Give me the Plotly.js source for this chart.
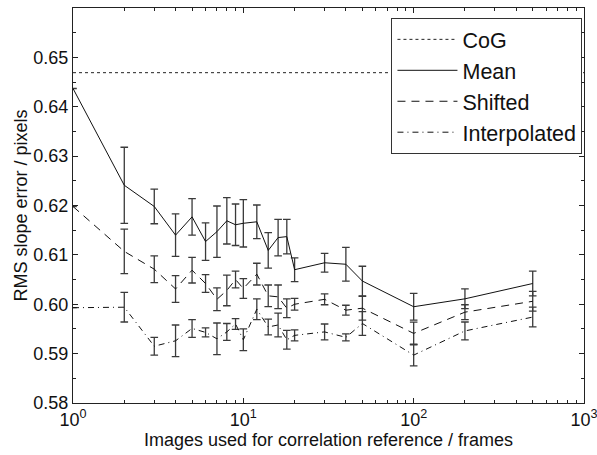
<!DOCTYPE html>
<html>
<head>
<meta charset="utf-8">
<script src="https://cdn.plot.ly/plotly-3.0.1.min.js"></script>
<style>html,body{margin:0;padding:0;background:#fff;}#chart{width:597px;height:455px;}</style>
</head>
<body>
<div id="chart"></div>
<script>
// Frames used for correlation reference
var frames = [1, 2, 3, 4, 5, 6, 7, 8, 9, 10, 12, 14, 16, 18, 20, 30, 40, 50, 100, 200, 500];

// CoG reference level
var cogX = [1, 1000];
var cogY = [0.6469, 0.6469];

// Mean
var meanY =   [0.6437, 0.6241, 0.6198, 0.6140, 0.6177, 0.6127, 0.6147, 0.6169, 0.6161, 0.6164, 0.6167, 0.6109, 0.6135, 0.6137, 0.6070, 0.6084, 0.6081, 0.6047, 0.5995, 0.6011, 0.6042];
var meanErr = [null,   0.0077, 0.0035, 0.0043, 0.0037, 0.0038, 0.0052, 0.0047, 0.0042, 0.0048, 0.0034, 0.0036, 0.0037, 0.0035, 0.0024, 0.0019, 0.0034, 0.0030, 0.0027, 0.0020, 0.0025];

// Shifted
var shiftY =   [0.6198, 0.6107, 0.6071, 0.6031, 0.6069, 0.6042, 0.6010, 0.6028, 0.6050, 0.6032, 0.6061, 0.6017, 0.6015, 0.5992, 0.6000, 0.6010, 0.5988, 0.5992, 0.5941, 0.5984, 0.6006];
var shiftErr = [null,   0.0045, 0.0027, 0.0027, 0.0026, 0.0018, 0.0023, 0.0031, 0.0017, 0.0020, 0.0022, 0.0022, 0.0024, 0.0019, 0.0012, 0.0011, 0.0010, 0.0024, 0.0023, 0.0015, 0.0020];

// Interpolated
var interpY =   [0.5993, 0.5994, 0.5915, 0.5926, 0.5951, 0.5943, 0.5930, 0.5944, 0.5960, 0.5928, 0.5990, 0.5954, 0.5958, 0.5928, 0.5937, 0.5944, 0.5933, 0.5961, 0.5897, 0.5946, 0.5974];
var interpErr = [null,   0.0030, 0.0018, 0.0032, 0.0018, 0.0009, 0.0032, 0.0017, 0.0011, 0.0022, 0.0021, 0.0016, 0.0024, 0.0019, 0.0011, 0.0016, 0.0007, 0.0024, 0.0022, 0.0018, 0.0020];

// Axis ticks
var xTickVals = [1, 10, 100, 1000];
var xTickText = ['10<sup>0</sup>', '10<sup>1</sup>', '10<sup>2</sup>', '10<sup>3</sup>'];
var xMinorVals = [2,3,4,5,6,7,8,9,20,30,40,50,60,70,80,90,200,300,400,500,600,700,800,900];
var yTickVals = [0.58, 0.59, 0.60, 0.61, 0.62, 0.63, 0.64, 0.65];
var yTickText = ['0.58', '0.59', '0.60', '0.61', '0.62', '0.63', '0.64', '0.65'];

var FONT = 'Liberation Sans, Arial, Helvetica, sans-serif';
var errStyle = {color: '#3a3a3a', thickness: 1.3, width: 3.8};

function errBar(arr) {
  return {type: 'data', array: arr, visible: true, color: errStyle.color, thickness: errStyle.thickness, width: errStyle.width};
}

var traces = [
  {x: cogX, y: cogY, name: 'CoG', mode: 'lines', line: {color: '#222', width: 1, dash: 'dot'}},
  {x: frames, y: meanY, name: 'Mean', mode: 'lines', line: {color: '#111', width: 1}, error_y: errBar(meanErr)},
  {x: frames, y: shiftY, name: 'Shifted', mode: 'lines', line: {color: '#111', width: 1, dash: '8px,6px'}, error_y: errBar(shiftErr)},
  {x: frames, y: interpY, name: 'Interpolated', mode: 'lines', line: {color: '#111', width: 1, dash: '6px,4px,1px,4px'}, error_y: errBar(interpErr)}
];

var layout = {
  width: 597, height: 455,
  margin: {l: 73, r: 13, t: 8, b: 52},
  paper_bgcolor: '#fff', plot_bgcolor: '#fff',
  font: {family: FONT, size: 18, color: '#000'},
  showlegend: true,
  legend: {
    x: 0.997, xanchor: 'right', y: 0.975, yanchor: 'top',
    bgcolor: '#fff', bordercolor: '#333', borderwidth: 1,
    font: {family: FONT, size: 21.5, color: '#111'},
    itemwidth: 60, tracegroupgap: 0
  },
  xaxis: {
    type: 'log', range: [0, 3],
    tickmode: 'array', tickvals: xTickVals, ticktext: xTickText,
    ticklabeloverflow: 'allow',
    ticks: 'inside', ticklen: 5, tickcolor: '#222',
    minor: {tickmode: 'array', tickvals: xMinorVals, ticks: 'inside', ticklen: 3, tickcolor: '#222'},
    showgrid: false, zeroline: false,
    showline: true, linecolor: '#222', linewidth: 1, mirror: 'ticks',
    tickfont: {family: FONT, size: 18, color: '#111'},
    title: {text: 'Images used for correlation reference / frames', font: {family: FONT, size: 18, color: '#111'}, standoff: 4},
    automargin: false
  },
  yaxis: {
    range: [0.58, 0.66],
    tickmode: 'array', tickvals: yTickVals, ticktext: yTickText,
    ticks: 'inside', ticklen: 5, tickcolor: '#222',
    minor: {dtick: 0.005, ticks: 'inside', ticklen: 3, tickcolor: '#222'},
    showgrid: false, zeroline: false,
    showline: true, linecolor: '#222', linewidth: 1, mirror: 'ticks',
    tickfont: {family: FONT, size: 18, color: '#111'},
    title: {text: 'RMS slope error / pixels', font: {family: FONT, size: 18, color: '#111'}},
    automargin: false
  }
};

Plotly.newPlot('chart', traces, layout, {displayModeBar: false, staticPlot: true});
</script>
</body>
</html>
